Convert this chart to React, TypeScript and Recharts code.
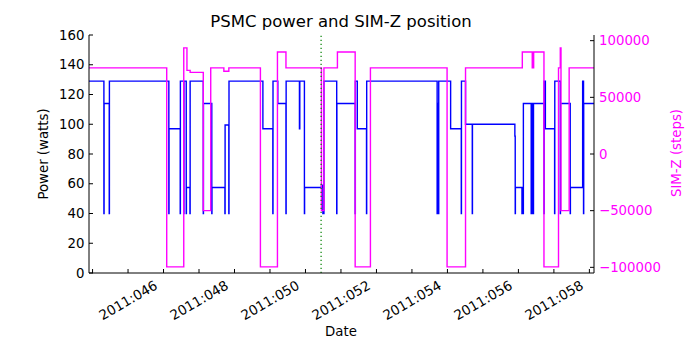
import React from "react";
import { LineChart, Line, XAxis, YAxis, ReferenceLine } from "recharts";

// day-of-year 2011, fractional
const powerTimes = [
  44.9, 45.32, 45.325, 45.47, 45.475, 47.15, 47.155, 47.47, 47.475, 47.57, 47.575, 47.64, 47.645, 47.745, 47.75,
  48.12, 48.125, 48.36, 48.365, 48.73, 48.735, 48.84, 48.845, 49.8, 50.08, 50.085, 50.22, 50.45, 50.455, 50.83,
  50.84, 50.97, 50.975, 51.45, 51.49, 51.52, 51.88, 51.885, 52.4, 52.405, 52.46, 52.72, 52.725, 54.71, 54.715,
  54.73, 54.735, 54.75, 54.755, 55.09, 55.39, 55.395, 55.51, 55.7, 55.705, 56.9, 56.91, 56.915, 57.1, 57.14,
  57.36, 57.365, 57.39, 57.395, 57.42, 57.425, 57.72, 57.725, 57.76, 58.02, 58.025, 58.18, 58.185, 58.46, 58.465,
  58.81, 58.835, 58.84, 59.13,
];
const powerWatts = [
  129, 40, 114, 40, 129, 40, 97, 40, 129, 40, 129, 40, 57.5, 40, 129,
  40, 114, 40, 57.5, 40, 99.5, 40, 129, 97, 40, 129, 114, 40, 129, 97,
  129, 40, 57.5, 59, 40, 129, 40, 114, 40, 129, 97, 40, 129, 40, 114,
  40, 114, 40, 129, 97, 40, 129, 100, 40, 100, 92, 40, 57.5, 40, 114,
  40, 114, 40, 114, 40, 114, 40, 129, 97, 40, 129, 40, 114, 40, 57.5,
  129, 40, 114, 114,
];

const simzTimes = [
  44.9, 47.09, 47.57, 47.66, 47.75, 48.12, 48.33, 48.7, 48.84, 49.73, 50.21, 50.45, 51.45, 51.52,
  51.9, 52.4, 52.83, 54.99, 55.51, 57.11, 57.39, 57.43, 57.72, 58.13, 58.18, 58.2, 58.43, 59.13,
];
const simzSteps = [
  76000, -99600, 93600, 73800, 72000, -50000, 76000, 73000, 76000, -99600, 90000, 76000, -50000, 76000,
  90000, -99600, 76000, -99600, 76000, 90000, 76000, 90000, -99600, 76000, 93600, -50000, 76000, 76000,
];

const dayTicks = [45, 46, 47, 48, 49, 50, 51, 52, 53, 54, 55, 56, 57, 58, 59];
const powerTicks = [0, 20, 40, 60, 80, 100, 120, 140, 160];
const simzTicks = [-100000, -50000, 0, 50000, 100000];
const markerDay = 51.44;

const powerData = powerTimes.map((t, i) => ({ t, v: powerWatts[i] }));
const simzData = simzTimes.map((t, i) => ({ t, v: simzSteps[i] }));

const FONT = "DejaVu Sans, sans-serif";
const MAGENTA = "#ff00ff";

const DateTick = (props: any) => {
  const { x, y, payload } = props;
  const d = payload.value;
  if (d % 2 !== 0) return null;
  const cy = y + 27;
  return (
    <text
      x={x}
      y={cy}
      textAnchor="middle"
      dominantBaseline="central"
      transform={`rotate(-30 ${x} ${cy})`}
      fontSize={13.5}
      fontFamily={FONT}
      fill="#000"
    >
      {"2011:" + String(d).padStart(3, "0")}
    </text>
  );
};

const fmtSteps = (v: number) => (v < 0 ? "\u2212" + Math.abs(v) : String(v));

export default function App() {
  return (
    <div style={{ position: "absolute", left: 0, top: 0, width: 700, height: 350, background: "#fff" }}>
      <LineChart width={700} height={350} margin={{ top: 35, right: 0, bottom: 27, left: 0 }}>
        <XAxis
          xAxisId="bottom"
          dataKey="t"
          type="number"
          domain={[44.9, 59.13]}
          allowDataOverflow
          ticks={dayTicks}
          height={50}
          tickSize={-4}
          tickMargin={4}
          tick={<DateTick />}
          axisLine={{ stroke: "#000" }}
          tickLine={{ stroke: "#000" }}
        />
        <XAxis
          xAxisId="top"
          orientation="top"
          dataKey="t"
          type="number"
          domain={[44.9, 59.13]}
          allowDataOverflow
          ticks={dayTicks}
          height={0}
          tickSize={-4}
          tickFormatter={() => ""}
          axisLine={{ stroke: "#000" }}
          tickLine={{ stroke: "#000" }}
        />
        <YAxis
          yAxisId="left"
          type="number"
          domain={[0, 160]}
          ticks={powerTicks}
          width={89}
          tickSize={-4}
          tickMargin={8.5}
          tick={{ fontSize: 13.3, fontFamily: FONT, fill: "#000" }}
          axisLine={{ stroke: "#000" }}
          tickLine={{ stroke: "#000" }}
        />
        <YAxis
          yAxisId="right"
          orientation="right"
          type="number"
          domain={[-105000, 105000]}
          allowDataOverflow
          ticks={simzTicks}
          width={106}
          tickSize={-4}
          tickMargin={9}
          tickFormatter={fmtSteps}
          tick={{ fontSize: 13.3, fontFamily: FONT, fill: MAGENTA }}
          axisLine={{ stroke: "#000" }}
          tickLine={{ stroke: "#000" }}
        />
        <Line
          xAxisId="bottom"
          yAxisId="left"
          data={powerData}
          dataKey="v"
          type="stepAfter"
          stroke="#0000ff"
          strokeWidth={1.4}
          dot={false}
          activeDot={false}
          isAnimationActive={false}
        />
        <Line
          xAxisId="bottom"
          yAxisId="right"
          data={simzData}
          dataKey="v"
          type="stepAfter"
          stroke={MAGENTA}
          strokeWidth={1.4}
          dot={false}
          activeDot={false}
          isAnimationActive={false}
        />
        <ReferenceLine
          xAxisId="bottom"
          yAxisId="left"
          x={markerDay}
          stroke="#008000"
          strokeWidth={1.2}
          strokeDasharray="1.2 2.8"
        />
      </LineChart>
      <svg
        width={700}
        height={350}
        style={{ position: "absolute", left: 0, top: 0, pointerEvents: "none" }}
        fontFamily={FONT}
      >
        <text x={341} y={27} textAnchor="middle" fontSize={16.5} fill="#000">
          PSMC power and SIM-Z position
        </text>
        <text x={341} y={331} textAnchor="middle" dominantBaseline="central" fontSize={13.3} fill="#000">
          Date
        </text>
        <text
          x={43}
          y={154}
          textAnchor="middle"
          dominantBaseline="central"
          fontSize={13.3}
          fill="#000"
          transform="rotate(-90 43 154)"
        >
          Power (watts)
        </text>
        <text
          x={676}
          y={153}
          textAnchor="middle"
          dominantBaseline="central"
          fontSize={13.3}
          fill={MAGENTA}
          transform="rotate(-90 676 153)"
        >
          SIM-Z (steps)
        </text>
      </svg>
    </div>
  );
}
